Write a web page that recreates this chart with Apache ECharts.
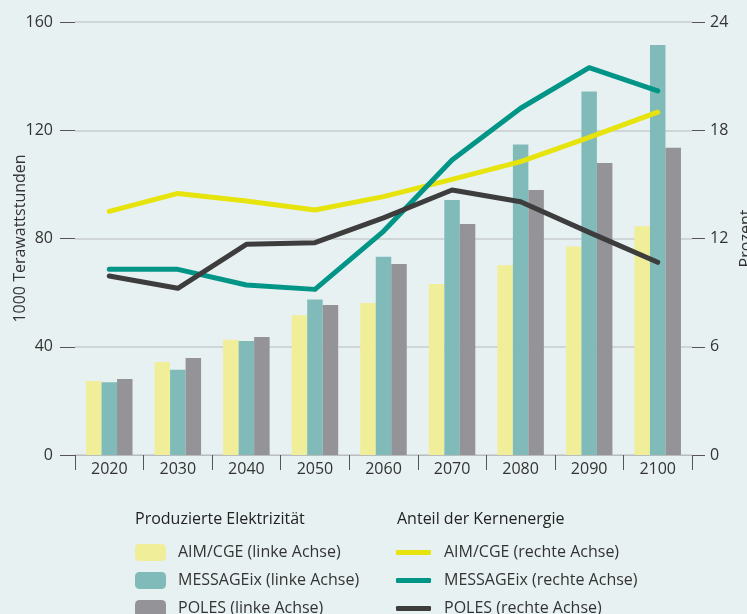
<!DOCTYPE html>
<html>
<head>
<meta charset="utf-8">
<script src="https://cdn.jsdelivr.net/npm/echarts@6/dist/echarts.min.js"></script>
<style>
html,body{margin:0;padding:0;background:#e8f1f2;}
#chart{width:747px;height:614px;}
</style>
</head>
<body>
<div id="chart"></div>
<script>
const categories = ['2020','2030','2040','2050','2060','2070','2080','2090','2100'];
const leftTicks = [0, 40, 80, 120, 160];
const rightTicks = [0, 6, 12, 18, 24];

const barAIM = [27.3, 34.4, 42.6, 51.6, 56.2, 63.2, 70.1, 77.0, 84.5];
const barMESSAGE = [26.9, 31.5, 42.1, 57.5, 73.3, 94.2, 114.7, 134.3, 151.5];
const barPOLES = [28.1, 35.8, 43.6, 55.4, 70.6, 85.4, 97.9, 107.9, 113.5];

const lineAIM = [13.5, 14.5, 14.08, 13.58, 14.32, 15.28, 16.26, 17.61, 19.0];
const lineMESSAGE = [10.29, 10.29, 9.42, 9.18, 12.4, 16.35, 19.22, 21.47, 20.18];
const linePOLES = [9.92, 9.24, 11.68, 11.77, 13.14, 14.69, 14.04, 12.34, 10.68];

const barNames = ['AIM/CGE (linke Achse)', 'MESSAGEix (linke Achse)', 'POLES (linke Achse)'];
const lineNames = ['AIM/CGE (rechte Achse)', 'MESSAGEix (rechte Achse)', 'POLES (rechte Achse)'];
const legendTitles = ['Produzierte Elektrizität', 'Anteil der Kernenergie'];

const FONT = '"Open Sans", "Noto Sans", sans-serif';
const TXT = '#333333';
const FS = 16;

const chart = echarts.init(document.getElementById('chart'), null, {renderer: 'canvas'});

function barSeries(name, data, color) {
  return {
    name, type: 'bar', yAxisIndex: 0, data,
    barWidth: 15.5, barGap: '0%',
    itemStyle: {color},
    z: 2
  };
}
function lineSeries(name, data, color) {
  return {
    name, type: 'line', yAxisIndex: 1, data,
    symbol: 'none', showSymbol: false,
    lineStyle: {color, width: 5, cap: 'round', join: 'round'},
    itemStyle: {color},
    z: 5
  };
}

const rowTops = [544, 572, 600];
const legends = [];
barNames.forEach((n, i) => legends.push({
  data: [n], orient: 'vertical', left: 135, top: rowTops[i], padding: 0,
  itemWidth: 31, itemHeight: 17, selectedMode: false,
  textStyle: {color: TXT, fontSize: FS, fontFamily: FONT, padding: [0,0,0,7], lineHeight: 17}
}));
lineNames.forEach((n, i) => legends.push({
  data: [n], orient: 'vertical', left: 396, top: rowTops[i], padding: 0,
  itemWidth: 35, itemHeight: 5, icon: 'roundRect', selectedMode: false,
  textStyle: {color: TXT, fontSize: FS, fontFamily: FONT, padding: [0,0,0,8], lineHeight: 17}
}));

const option = {
  backgroundColor: '#e8f1f2',
  animation: false,
  textStyle: {fontFamily: FONT},
  grid: {left: 75, right: 55, top: 22, bottom: 159, containLabel: false, outerBoundsMode: 'none'},
  xAxis: {
    type: 'category', data: categories, boundaryGap: true,
    axisLine: {show: true, lineStyle: {color: '#b9bdbe', width: 1}},
    axisTick: {show: true, length: 15, alignWithLabel: false, lineStyle: {color: '#555555'}},
    axisLabel: {color: TXT, fontSize: FS, margin: 6, fontFamily: FONT},
    splitLine: {show: false}
  },
  yAxis: [
    {
      type: 'value', position: 'left', min: leftTicks[0], max: leftTicks[leftTicks.length-1], interval: 40,
      name: '1000 Terawattstunden', nameLocation: 'middle', nameGap: 47, nameRotate: 90,
      nameMoveOverlap: false,
      nameTextStyle: {color: TXT, fontSize: FS, fontFamily: FONT},
      axisLine: {show: false},
      axisTick: {show: true, length: 15, lineStyle: {color: '#555555'}},
      axisLabel: {color: TXT, fontSize: FS, margin: 22, fontFamily: FONT},
      splitLine: {show: true, lineStyle: {color: '#c8cdce', width: 1.5}}
    },
    {
      type: 'value', position: 'right', min: rightTicks[0], max: rightTicks[rightTicks.length-1], interval: 6,
      name: 'Prozent', nameLocation: 'middle', nameGap: 46, nameRotate: 90,
      nameMoveOverlap: false,
      nameTextStyle: {color: TXT, fontSize: FS, fontFamily: FONT},
      axisLine: {show: false},
      axisTick: {show: true, length: 13, lineStyle: {color: '#555555'}},
      axisLabel: {color: TXT, fontSize: FS, margin: 18, fontFamily: FONT},
      splitLine: {show: false}
    }
  ],
  legend: legends,
  graphic: [
    {type: 'text', left: 135, top: 511, style: {text: legendTitles[0], fill: '#222222', font: FS + 'px ' + FONT}},
    {type: 'text', left: 397, top: 511, style: {text: legendTitles[1], fill: '#222222', font: FS + 'px ' + FONT}}
  ],
  series: [
    barSeries(barNames[0], barAIM, '#f0ee99'),
    barSeries(barNames[1], barMESSAGE, '#80bbba'),
    barSeries(barNames[2], barPOLES, '#949498'),
    lineSeries(lineNames[0], lineAIM, '#e6e30d'),
    lineSeries(lineNames[1], lineMESSAGE, '#009586'),
    lineSeries(lineNames[2], linePOLES, '#3d3d3d')
  ]
};
chart.setOption(option);
</script>
</body>
</html>
